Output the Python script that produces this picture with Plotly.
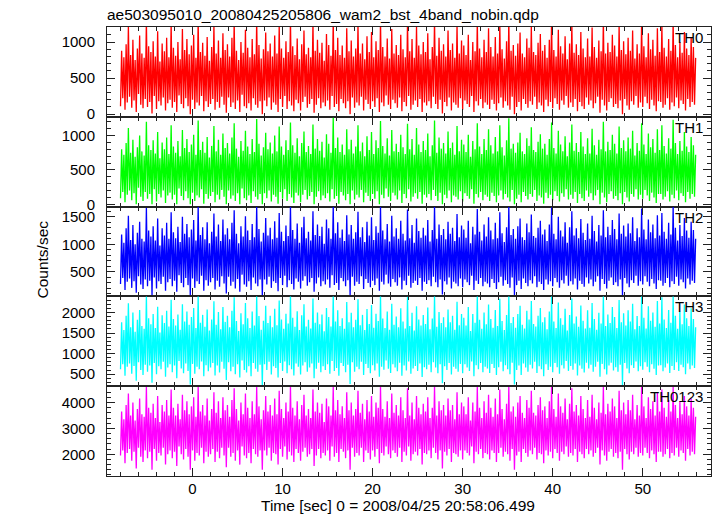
import plotly.graph_objects as go
from plotly.subplots import make_subplots

# ---- data (counts/sec), one value every T_STEP seconds starting at T_START ----
T_START = -8.0
T_STEP = 0.125

th0 = [
    110, 880, 220, 790, 60, 970, 160, 1220, 240, 820, 90, 1030, 190, 750, 30, 910,
    280, 1090, 130, 840, 80, 780, 210, 1300, 100, 940, 170, 860, 10, 1010, 250, 800,
    70, 1150, 180, 730, 120, 980, 230, 870, 50, 1060, 150, 790, 200, 1260, 90, 920,
    170, 810, 30, 1000, 260, 760, 140, 1180, 80, 890, 220, 1040, 110, 830, 0, 950,
    200, 1100, 70, 780, 160, 1300, 120, 860, 250, 990, 40, 810, 180, 1070, 100, 740,
    140, 930, 210, 1240, 60, 840, 170, 1020, 90, 780, 240, 1120, 130, 890, 20, 970,
    230, 800, 100, 1060, 160, 1290, 70, 880, 190, 750, 30, 1000, 270, 850, 110, 1170,
    80, 920, 150, 790, 50, 1040, 220, 830, 130, 1300, 90, 960, 180, 770, 0, 900,
    190, 1130, 110, 870, 230, 980, 60, 800, 160, 1090, 130, 840, 30, 1230, 210, 910,
    100, 780, 250, 1010, 70, 860, 180, 1300, 120, 940, 40, 820, 200, 1050, 150, 760,
    50, 970, 170, 1160, 240, 830, 90, 920, 140, 790, 210, 1270, 20, 880, 130, 1030,
    220, 850, 80, 990, 160, 740, 110, 1110, 190, 960, 60, 810, 250, 1300, 100, 890,
    140, 1060, 40, 820, 210, 950, 150, 780, 80, 1190, 180, 870, 0, 1020, 230, 800,
    90, 910, 160, 1250, 120, 840, 240, 980, 50, 760, 200, 1080, 140, 860, 70, 1140,
    180, 790, 100, 1010, 220, 890, 30, 1300, 160, 930, 110, 800, 260, 1050, 130, 770,
    70, 1180, 200, 840, 150, 960, 90, 820, 230, 1100, 40, 900, 170, 790, 110, 1280,
    250, 870, 60, 1040, 130, 780, 190, 1210, 100, 950, 210, 830, 30, 1000, 160, 860,
    120, 1120, 180, 760, 80, 930, 240, 1300, 140, 810, 70, 1060, 200, 880, 10, 970,
    170, 800, 110, 1160, 230, 890, 50, 980, 160, 780, 130, 1240, 90, 840, 220, 1020,
    60, 950, 190, 820, 140, 1100, 100, 750, 250, 1000, 30, 870, 180, 1290, 120, 910,
    210, 790, 80, 1030, 160, 860, 130, 1190, 70, 930, 200, 800, 140, 1070, 50, 840,
    150, 1250, 230, 900, 90, 770, 180, 1010, 120, 1300, 60, 880, 240, 960, 0, 810,
    100, 980, 170, 1130, 50, 840, 210, 790, 140, 1050, 90, 920, 180, 1220, 130, 860,
    240, 820, 70, 990, 160, 1110, 120, 880, 30, 960, 200, 780, 110, 1030, 170, 1300,
    80, 890, 220, 800, 140, 1170, 60, 940, 190, 840, 130, 1080, 250, 760, 90, 980,
    160, 1260, 100, 850, 210, 970, 40, 820, 170, 1140, 110, 910, 70, 790, 230, 1050,
    130, 800, 190, 1200, 80, 930, 150, 780, 240, 1020, 20, 870, 200, 1300, 120, 840,
    50, 990, 170, 860, 220, 1100, 100, 950, 140, 800, 80, 1230, 190, 890, 0, 1010,
    210, 830, 120, 1060, 60, 880, 180, 1160, 130, 770, 250, 970, 90, 840, 160, 1280,
    100, 940, 240, 790, 150, 1120, 70, 900, 200, 1030, 120, 810, 40, 1190, 180, 860,
    170, 1250, 90, 920, 130, 800, 220, 1040, 60, 880, 160, 1300, 110, 960, 230, 790,
    80, 1000, 190, 850, 140, 1140, 50, 910, 210, 820, 100, 1070, 170, 930, 130, 780,
]

th1 = [
    90, 800, 180, 720, 30, 890, 140, 1110, 200, 750, 60, 940, 160, 690, 0, 830,
    240, 1000, 110, 770, 50, 710, 180, 1200, 80, 860, 150, 790, 0, 930, 220, 740,
    40, 1050, 150, 670, 100, 900, 200, 800, 20, 970, 130, 730, 170, 1150, 70, 840,
    140, 750, 0, 920, 230, 700, 120, 1080, 60, 820, 190, 950, 90, 760, 0, 870,
    170, 1010, 50, 720, 130, 1220, 100, 790, 220, 910, 10, 750, 150, 980, 80, 680,
    120, 850, 180, 1140, 30, 770, 140, 940, 70, 720, 210, 1030, 110, 820, 0, 890,
    200, 740, 80, 970, 130, 1180, 50, 810, 160, 690, 0, 920, 230, 780, 90, 1070,
    60, 840, 130, 730, 20, 950, 190, 760, 110, 1240, 70, 880, 150, 710, 0, 830,
    160, 1040, 90, 800, 200, 900, 40, 740, 140, 1000, 110, 770, 10, 1130, 180, 840,
    80, 720, 220, 930, 50, 790, 150, 1190, 100, 860, 20, 750, 170, 960, 130, 700,
    30, 890, 140, 1060, 210, 760, 70, 850, 120, 730, 180, 1160, 0, 810, 110, 950,
    190, 780, 60, 910, 130, 680, 90, 1020, 160, 880, 40, 750, 220, 1260, 80, 820,
    120, 970, 10, 760, 180, 870, 130, 720, 60, 1090, 150, 800, 0, 940, 200, 740,
    70, 840, 140, 1150, 100, 770, 210, 900, 30, 700, 170, 990, 120, 790, 50, 1050,
    150, 730, 80, 930, 190, 820, 0, 1210, 140, 850, 90, 740, 230, 960, 110, 710,
    50, 1080, 170, 770, 130, 880, 70, 760, 200, 1010, 20, 830, 150, 730, 90, 1170,
    220, 800, 40, 950, 110, 720, 160, 1110, 80, 870, 180, 760, 10, 920, 140, 790,
    100, 1030, 150, 700, 60, 860, 210, 1220, 120, 750, 50, 970, 170, 810, 0, 890,
    140, 740, 90, 1060, 200, 820, 30, 900, 130, 720, 110, 1140, 70, 770, 190, 940,
    40, 870, 160, 760, 120, 1010, 80, 690, 220, 920, 10, 800, 150, 1180, 100, 840,
    180, 730, 60, 950, 140, 790, 110, 1090, 50, 860, 170, 740, 120, 980, 30, 770,
    130, 1150, 200, 830, 70, 710, 150, 930, 100, 1250, 40, 810, 210, 880, 0, 750,
    80, 900, 140, 1040, 30, 770, 180, 730, 120, 960, 70, 850, 150, 1120, 110, 790,
    210, 760, 50, 910, 130, 1020, 100, 810, 10, 880, 170, 720, 90, 950, 140, 1190,
    60, 820, 190, 740, 120, 1070, 40, 870, 160, 770, 110, 990, 220, 700, 70, 900,
    140, 1160, 80, 780, 180, 890, 20, 760, 150, 1050, 90, 840, 50, 730, 200, 960,
    110, 740, 160, 1100, 60, 860, 130, 720, 210, 940, 0, 800, 170, 1200, 100, 770,
    30, 910, 150, 790, 190, 1010, 80, 880, 120, 740, 60, 1130, 160, 820, 0, 930,
    180, 770, 100, 970, 40, 810, 150, 1070, 110, 710, 220, 890, 70, 780, 140, 1180,
    80, 870, 210, 730, 130, 1030, 50, 830, 170, 950, 100, 750, 20, 1090, 150, 790,
    150, 1150, 70, 850, 110, 740, 190, 960, 40, 810, 140, 1230, 90, 890, 200, 730,
    60, 920, 160, 780, 120, 1050, 30, 840, 180, 760, 80, 980, 150, 860, 110, 720,
]

th2 = [
    280, 1180, 390, 1030, 170, 1290, 320, 1520, 380, 1080, 210, 1350, 330, 1000, 120, 1210,
    420, 1410, 270, 1100, 190, 1050, 360, 1660, 240, 1250, 340, 1140, 80, 1330, 400, 1070,
    200, 1470, 330, 980, 280, 1290, 410, 1160, 160, 1390, 310, 1100, 370, 1580, 240, 1220,
    340, 1110, 140, 1320, 440, 1040, 300, 1500, 220, 1190, 390, 1370, 260, 1130, 60, 1270,
    380, 1440, 210, 1070, 330, 1690, 280, 1170, 430, 1310, 160, 1090, 350, 1400, 250, 1020,
    310, 1230, 390, 1560, 180, 1140, 340, 1360, 230, 1060, 420, 1450, 290, 1180, 110, 1290,
    410, 1090, 250, 1390, 320, 1620, 200, 1190, 370, 1020, 140, 1330, 450, 1140, 270, 1510,
    230, 1250, 330, 1080, 170, 1370, 400, 1130, 290, 1700, 240, 1280, 360, 1050, 60, 1210,
    360, 1480, 270, 1160, 410, 1300, 210, 1090, 330, 1420, 300, 1120, 150, 1570, 390, 1230,
    260, 1060, 430, 1340, 220, 1150, 350, 1690, 280, 1260, 180, 1100, 380, 1380, 320, 1030,
    200, 1310, 340, 1500, 420, 1110, 250, 1230, 310, 1070, 390, 1600, 140, 1170, 290, 1360,
    400, 1150, 240, 1320, 330, 1010, 270, 1450, 360, 1290, 210, 1100, 440, 1700, 260, 1200,
    300, 1400, 170, 1120, 390, 1270, 330, 1060, 240, 1530, 350, 1180, 70, 1350, 410, 1100,
    250, 1220, 320, 1590, 280, 1130, 420, 1310, 190, 1040, 370, 1410, 300, 1160, 220, 1490,
    340, 1080, 260, 1330, 380, 1210, 160, 1680, 320, 1250, 270, 1090, 450, 1370, 290, 1050,
    230, 1520, 370, 1140, 310, 1290, 250, 1100, 400, 1430, 180, 1190, 340, 1070, 260, 1630,
    430, 1110, 210, 1350, 300, 1030, 340, 1470, 260, 1240, 390, 1120, 160, 1300, 320, 1160,
    280, 1440, 350, 1050, 240, 1260, 410, 1700, 310, 1100, 220, 1360, 360, 1170, 90, 1280,
    330, 1090, 270, 1410, 400, 1190, 200, 1300, 320, 1060, 290, 1550, 240, 1130, 380, 1340,
    220, 1270, 360, 1120, 310, 1430, 260, 1020, 430, 1320, 170, 1180, 340, 1640, 280, 1230,
    390, 1070, 240, 1360, 320, 1140, 290, 1490, 220, 1250, 370, 1090, 300, 1390, 190, 1110,
    310, 1580, 410, 1200, 250, 1040, 350, 1310, 280, 1700, 210, 1170, 400, 1280, 80, 1100,
    260, 1330, 340, 1470, 190, 1130, 380, 1080, 300, 1380, 240, 1220, 350, 1540, 290, 1150,
    420, 1120, 220, 1300, 320, 1430, 280, 1180, 170, 1270, 360, 1060, 270, 1360, 330, 1670,
    240, 1190, 390, 1090, 310, 1500, 210, 1250, 350, 1140, 290, 1400, 430, 1030, 250, 1310,
    330, 1600, 270, 1160, 380, 1290, 180, 1110, 340, 1460, 280, 1210, 230, 1080, 400, 1380,
    290, 1100, 360, 1520, 240, 1240, 320, 1050, 420, 1350, 160, 1160, 370, 1620, 280, 1130,
    200, 1320, 340, 1170, 400, 1440, 260, 1280, 310, 1090, 240, 1560, 360, 1190, 70, 1340,
    390, 1140, 290, 1380, 220, 1200, 350, 1490, 300, 1060, 430, 1290, 250, 1130, 330, 1650,
    270, 1270, 420, 1090, 320, 1450, 240, 1220, 370, 1360, 290, 1110, 190, 1530, 350, 1160,
    340, 1570, 250, 1230, 300, 1100, 390, 1390, 220, 1180, 330, 1700, 280, 1300, 410, 1070,
    250, 1350, 360, 1150, 310, 1480, 200, 1250, 380, 1120, 270, 1410, 340, 1260, 300, 1100,
]

th3 = [
    620, 1760, 740, 1570, 460, 1920, 680, 2220, 760, 1640, 510, 2000, 700, 1530, 340, 1820,
    790, 2060, 600, 1670, 480, 1600, 730, 2390, 560, 1860, 710, 1710, 290, 1960, 770, 1620,
    500, 2140, 690, 1510, 620, 1930, 800, 1740, 440, 2040, 660, 1660, 740, 2310, 550, 1840,
    710, 1680, 400, 1950, 820, 1580, 640, 2200, 520, 1780, 760, 2020, 580, 1700, 250, 1890,
    750, 2110, 510, 1620, 680, 2400, 620, 1750, 810, 1940, 450, 1650, 720, 2070, 570, 1560,
    660, 1830, 770, 2270, 470, 1700, 710, 2010, 540, 1590, 800, 2130, 630, 1770, 360, 1920,
    790, 1640, 570, 2040, 680, 2370, 500, 1790, 740, 1550, 420, 1980, 830, 1710, 600, 2230,
    540, 1860, 690, 1620, 450, 2020, 770, 1680, 630, 2400, 560, 1910, 730, 1580, 230, 1800,
    740, 2160, 600, 1740, 800, 1920, 490, 1640, 690, 2090, 650, 1690, 420, 2290, 770, 1830,
    580, 1600, 810, 1970, 520, 1730, 720, 2400, 620, 1870, 470, 1650, 760, 2030, 680, 1570,
    490, 1930, 710, 2200, 790, 1660, 560, 1820, 660, 1610, 760, 2340, 400, 1750, 630, 2000,
    780, 1710, 550, 1950, 690, 1540, 600, 2110, 740, 1890, 510, 1660, 820, 2400, 580, 1780,
    650, 2050, 460, 1670, 770, 1860, 700, 1600, 550, 2250, 730, 1760, 260, 1990, 790, 1640,
    560, 1820, 680, 2320, 620, 1690, 800, 1940, 480, 1570, 750, 2080, 650, 1720, 520, 2180,
    720, 1630, 590, 1970, 760, 1790, 440, 2400, 680, 1850, 610, 1620, 830, 2020, 630, 1580,
    530, 2210, 740, 1700, 660, 1900, 570, 1640, 780, 2100, 460, 1780, 710, 1610, 590, 2380,
    810, 1670, 510, 1990, 640, 1560, 700, 2150, 580, 1830, 760, 1680, 430, 1940, 670, 1720,
    620, 2120, 730, 1590, 550, 1850, 790, 2400, 660, 1650, 520, 2010, 740, 1740, 280, 1880,
    690, 1640, 600, 2070, 770, 1760, 490, 1920, 680, 1580, 630, 2260, 560, 1690, 750, 1960,
    520, 1870, 740, 1680, 660, 2130, 580, 1550, 810, 1960, 450, 1750, 720, 2400, 620, 1820,
    770, 1600, 550, 2000, 680, 1710, 640, 2190, 530, 1840, 750, 1630, 650, 2060, 480, 1670,
    670, 2330, 800, 1790, 570, 1570, 720, 1940, 620, 2400, 500, 1740, 780, 1890, 250, 1630,
    600, 1960, 710, 2160, 480, 1700, 760, 1610, 660, 2040, 560, 1830, 730, 2280, 640, 1720,
    800, 1660, 530, 1920, 690, 2110, 620, 1760, 450, 1880, 740, 1590, 600, 2020, 680, 2400,
    550, 1780, 770, 1620, 670, 2240, 510, 1860, 720, 1700, 640, 2090, 820, 1560, 580, 1940,
    700, 2340, 610, 1730, 760, 1900, 470, 1650, 710, 2170, 630, 1800, 540, 1610, 780, 2050,
    640, 1630, 730, 2230, 560, 1840, 680, 1580, 800, 1990, 440, 1730, 750, 2400, 620, 1670,
    490, 1950, 710, 1740, 780, 2130, 590, 1890, 670, 1620, 560, 2300, 730, 1760, 240, 1980,
    770, 1680, 640, 2050, 520, 1780, 720, 2210, 650, 1590, 810, 1910, 570, 1670, 690, 2400,
    610, 1870, 790, 1610, 680, 2150, 550, 1800, 740, 2000, 630, 1650, 480, 2280, 710, 1730,
    720, 2370, 570, 1830, 660, 1620, 760, 2060, 530, 1750, 700, 2400, 600, 1920, 790, 1600,
    580, 2020, 730, 1710, 670, 2190, 500, 1860, 760, 1670, 620, 2100, 710, 1840, 650, 1640,
]

th0123 = [
    1950, 3650, 2150, 3350, 1650, 3900, 2050, 4350, 2200, 3500, 1750, 4000, 2100, 3300, 1450, 3750,
    2250, 4150, 1900, 3550, 1700, 3450, 2150, 4600, 1850, 3800, 2100, 3600, 1400, 3950, 2200, 3400,
    1750, 4250, 2050, 3250, 1950, 3900, 2250, 3650, 1600, 4100, 2000, 3500, 2150, 4500, 1850, 3800,
    2100, 3500, 1550, 3950, 2300, 3350, 2000, 4300, 1800, 3700, 2200, 4050, 1900, 3550, 1400, 3850,
    2150, 4200, 1750, 3450, 2050, 4600, 1950, 3650, 2250, 3900, 1650, 3500, 2100, 4150, 1900, 3300,
    2000, 3750, 2200, 4400, 1700, 3600, 2100, 4050, 1850, 3400, 2250, 4200, 1950, 3700, 1500, 3900,
    2250, 3450, 1900, 4100, 2050, 4550, 1750, 3750, 2150, 3300, 1600, 4000, 2300, 3550, 1950, 4350,
    1850, 3800, 2050, 3400, 1650, 4050, 2200, 3550, 2000, 4600, 1900, 3850, 2150, 3350, 1400, 3700,
    2150, 4250, 1950, 3650, 2250, 3900, 1750, 3500, 2050, 4150, 2000, 3550, 1600, 4450, 2200, 3750,
    1900, 3400, 2300, 4000, 1800, 3650, 2100, 4600, 1950, 3800, 1700, 3500, 2200, 4050, 2050, 3350,
    1750, 3900, 2100, 4300, 2250, 3500, 1900, 3750, 2000, 3400, 2200, 4500, 1550, 3650, 1950, 4000,
    2200, 3600, 1850, 3950, 2050, 3250, 1950, 4150, 2150, 3850, 1750, 3500, 2300, 4600, 1900, 3700,
    2050, 4100, 1700, 3550, 2200, 3850, 2100, 3400, 1850, 4400, 2150, 3700, 1400, 4000, 2250, 3500,
    1900, 3750, 2050, 4450, 1950, 3600, 2250, 3950, 1700, 3350, 2150, 4100, 2050, 3650, 1800, 4250,
    2150, 3450, 1900, 4000, 2200, 3800, 1650, 4600, 2050, 3750, 1950, 3450, 2300, 4050, 2000, 3400,
    1850, 4350, 2150, 3600, 2050, 3900, 1900, 3500, 2250, 4200, 1700, 3700, 2100, 3400, 1950, 4550,
    2300, 3500, 1750, 4000, 2000, 3350, 2100, 4250, 1950, 3800, 2200, 3550, 1600, 3950, 2050, 3650,
    2000, 4200, 2150, 3400, 1850, 3800, 2250, 4600, 2050, 3500, 1800, 4050, 2150, 3700, 1450, 3900,
    2100, 3500, 1950, 4150, 2200, 3700, 1700, 3900, 2050, 3350, 2000, 4400, 1900, 3550, 2150, 4000,
    1800, 3850, 2150, 3550, 2050, 4200, 1950, 3300, 2300, 4000, 1650, 3650, 2100, 4600, 2000, 3800,
    2200, 3400, 1850, 4050, 2050, 3600, 2000, 4300, 1800, 3800, 2150, 3450, 2050, 4150, 1700, 3550,
    2050, 4500, 2250, 3750, 1900, 3350, 2100, 3950, 2000, 4600, 1750, 3650, 2200, 3850, 1400, 3450,
    1950, 4000, 2100, 4250, 1700, 3600, 2200, 3400, 2050, 4100, 1900, 3800, 2150, 4450, 2000, 3600,
    2250, 3500, 1800, 3900, 2050, 4200, 2000, 3700, 1650, 3850, 2150, 3400, 1950, 4050, 2100, 4600,
    1850, 3750, 2200, 3450, 2050, 4350, 1750, 3850, 2100, 3600, 2000, 4150, 2300, 3350, 1900, 3950,
    2050, 4550, 1950, 3650, 2200, 3900, 1700, 3500, 2100, 4250, 2000, 3750, 1850, 3400, 2200, 4100,
    2000, 3450, 2150, 4300, 1900, 3800, 2050, 3350, 2250, 4000, 1600, 3600, 2150, 4600, 1950, 3550,
    1750, 3950, 2100, 3650, 2200, 4150, 1900, 3850, 2050, 3400, 1850, 4450, 2100, 3700, 1400, 4000,
    2200, 3550, 2000, 4100, 1800, 3700, 2100, 4300, 2000, 3350, 2250, 3900, 1900, 3500, 2050, 4600,
    1950, 3850, 2250, 3400, 2050, 4200, 1850, 3750, 2150, 4050, 2000, 3500, 1700, 4400, 2100, 3650,
    2100, 4500, 1900, 3800, 2000, 3450, 2200, 4100, 1850, 3650, 2050, 4600, 1950, 3900, 2250, 3400,
    1900, 4050, 2150, 3550, 2050, 4250, 1750, 3850, 2200, 3500, 1950, 4150, 2100, 3800, 2000, 3450,
]

band_names = ["TH0", "TH1", "TH2", "TH3", "TH0123"]
band_values = [th0, th1, th2, th3, th0123]

# ---- styling ----
colors = ["#ff0000", "#00ff00", "#0000ff", "#00ffff", "#ff00ff"]
y_ranges = [[-37, 1208], [-33, 1273], [55, 1685], [208, 2389], [1160, 4630]]
y_major = [500, 500, 500, 500, 1000]
y_minor = [100, 100, 100, 100, 200]
x_range = [-9.5, 57.58]

FONT = "Liberation Sans, Arial, Helvetica, sans-serif"
AX = "#222222"

W, H = 717, 516
ML, MR, MT, MB = 107, 6, 27, 40
PW = W - ML - MR
PH = H - MT - MB

fig = make_subplots(rows=5, cols=1, shared_xaxes=True, vertical_spacing=0)

for i, (name, vals) in enumerate(zip(band_names, band_values)):
    fig.add_trace(
        go.Scatter(
            x0=T_START, dx=T_STEP, y=vals, mode="lines", name=name,
            line=dict(color=colors[i], width=1.3),
            showlegend=False, hoverinfo="skip",
        ),
        row=i + 1, col=1,
    )
    fig.update_yaxes(
        range=y_ranges[i], dtick=y_major[i], tick0=0,
        minor=dict(ticks="inside", ticklen=4, dtick=y_minor[i], tick0=0,
                   tickcolor=AX, tickwidth=1),
        row=i + 1, col=1,
    )

fig.update_xaxes(
    range=x_range, dtick=10, tick0=0,
    showline=True, linecolor=AX, linewidth=1, mirror="ticks",
    ticks="inside", ticklen=8, tickcolor=AX, tickwidth=1,
    minor=dict(ticks="inside", ticklen=4, dtick=2, tick0=0, tickcolor=AX, tickwidth=1),
    showgrid=False, zeroline=False, ticklabelstandoff=-1,
)
fig.update_yaxes(
    showline=True, linecolor=AX, linewidth=1, mirror="ticks",
    ticks="inside", ticklen=8, tickcolor=AX, tickwidth=1,
    showgrid=False, zeroline=False, ticklabelstandoff=8,
)

def px_x(px):
    return (px - ML) / PW

def px_y(py):
    return (H - MB - py) / PH

annotations = []
panel_h = PH / 5
for i, name in enumerate(band_names):
    top = MT + i * panel_h
    annotations.append(dict(
        text=name, xref="paper", yref="paper", x=px_x(705), y=px_y(top + 10.5),
        xanchor="right", yanchor="middle", showarrow=False,
        font=dict(size=15, color="black", family=FONT),
    ))
annotations.append(dict(
    text="Counts/sec", xref="paper", yref="paper", x=px_x(41.5), y=px_y(260),
    xanchor="center", yanchor="middle", textangle=-90, showarrow=False,
    font=dict(size=15.5, color="black", family=FONT),
))
annotations.append(dict(
    text="Time [sec] 0 = 2008/04/25 20:58:06.499", xref="paper", yref="paper",
    x=px_x(398), y=px_y(506), xanchor="center", yanchor="middle", showarrow=False,
    font=dict(size=15.5, color="black", family=FONT),
))

fig.update_layout(
    width=W, height=H,
    margin=dict(l=ML, r=MR, t=MT, b=MB, pad=0),
    paper_bgcolor="white", plot_bgcolor="white",
    font=dict(family=FONT, size=15, color="black"),
    title=dict(
        text="ae503095010_20080425205806_wam2_bst_4band_nobin.qdp",
        x=ML / W, y=1 - 15 / H, xanchor="left", yanchor="middle",
        xref="container", yref="container",
        font=dict(size=15.5, color="black", family=FONT),
    ),
    annotations=annotations,
)

fig.write_html(
    "out.html",
    config={"displayModeBar": False},
    post_script="document.body.style.margin='0';",
)
